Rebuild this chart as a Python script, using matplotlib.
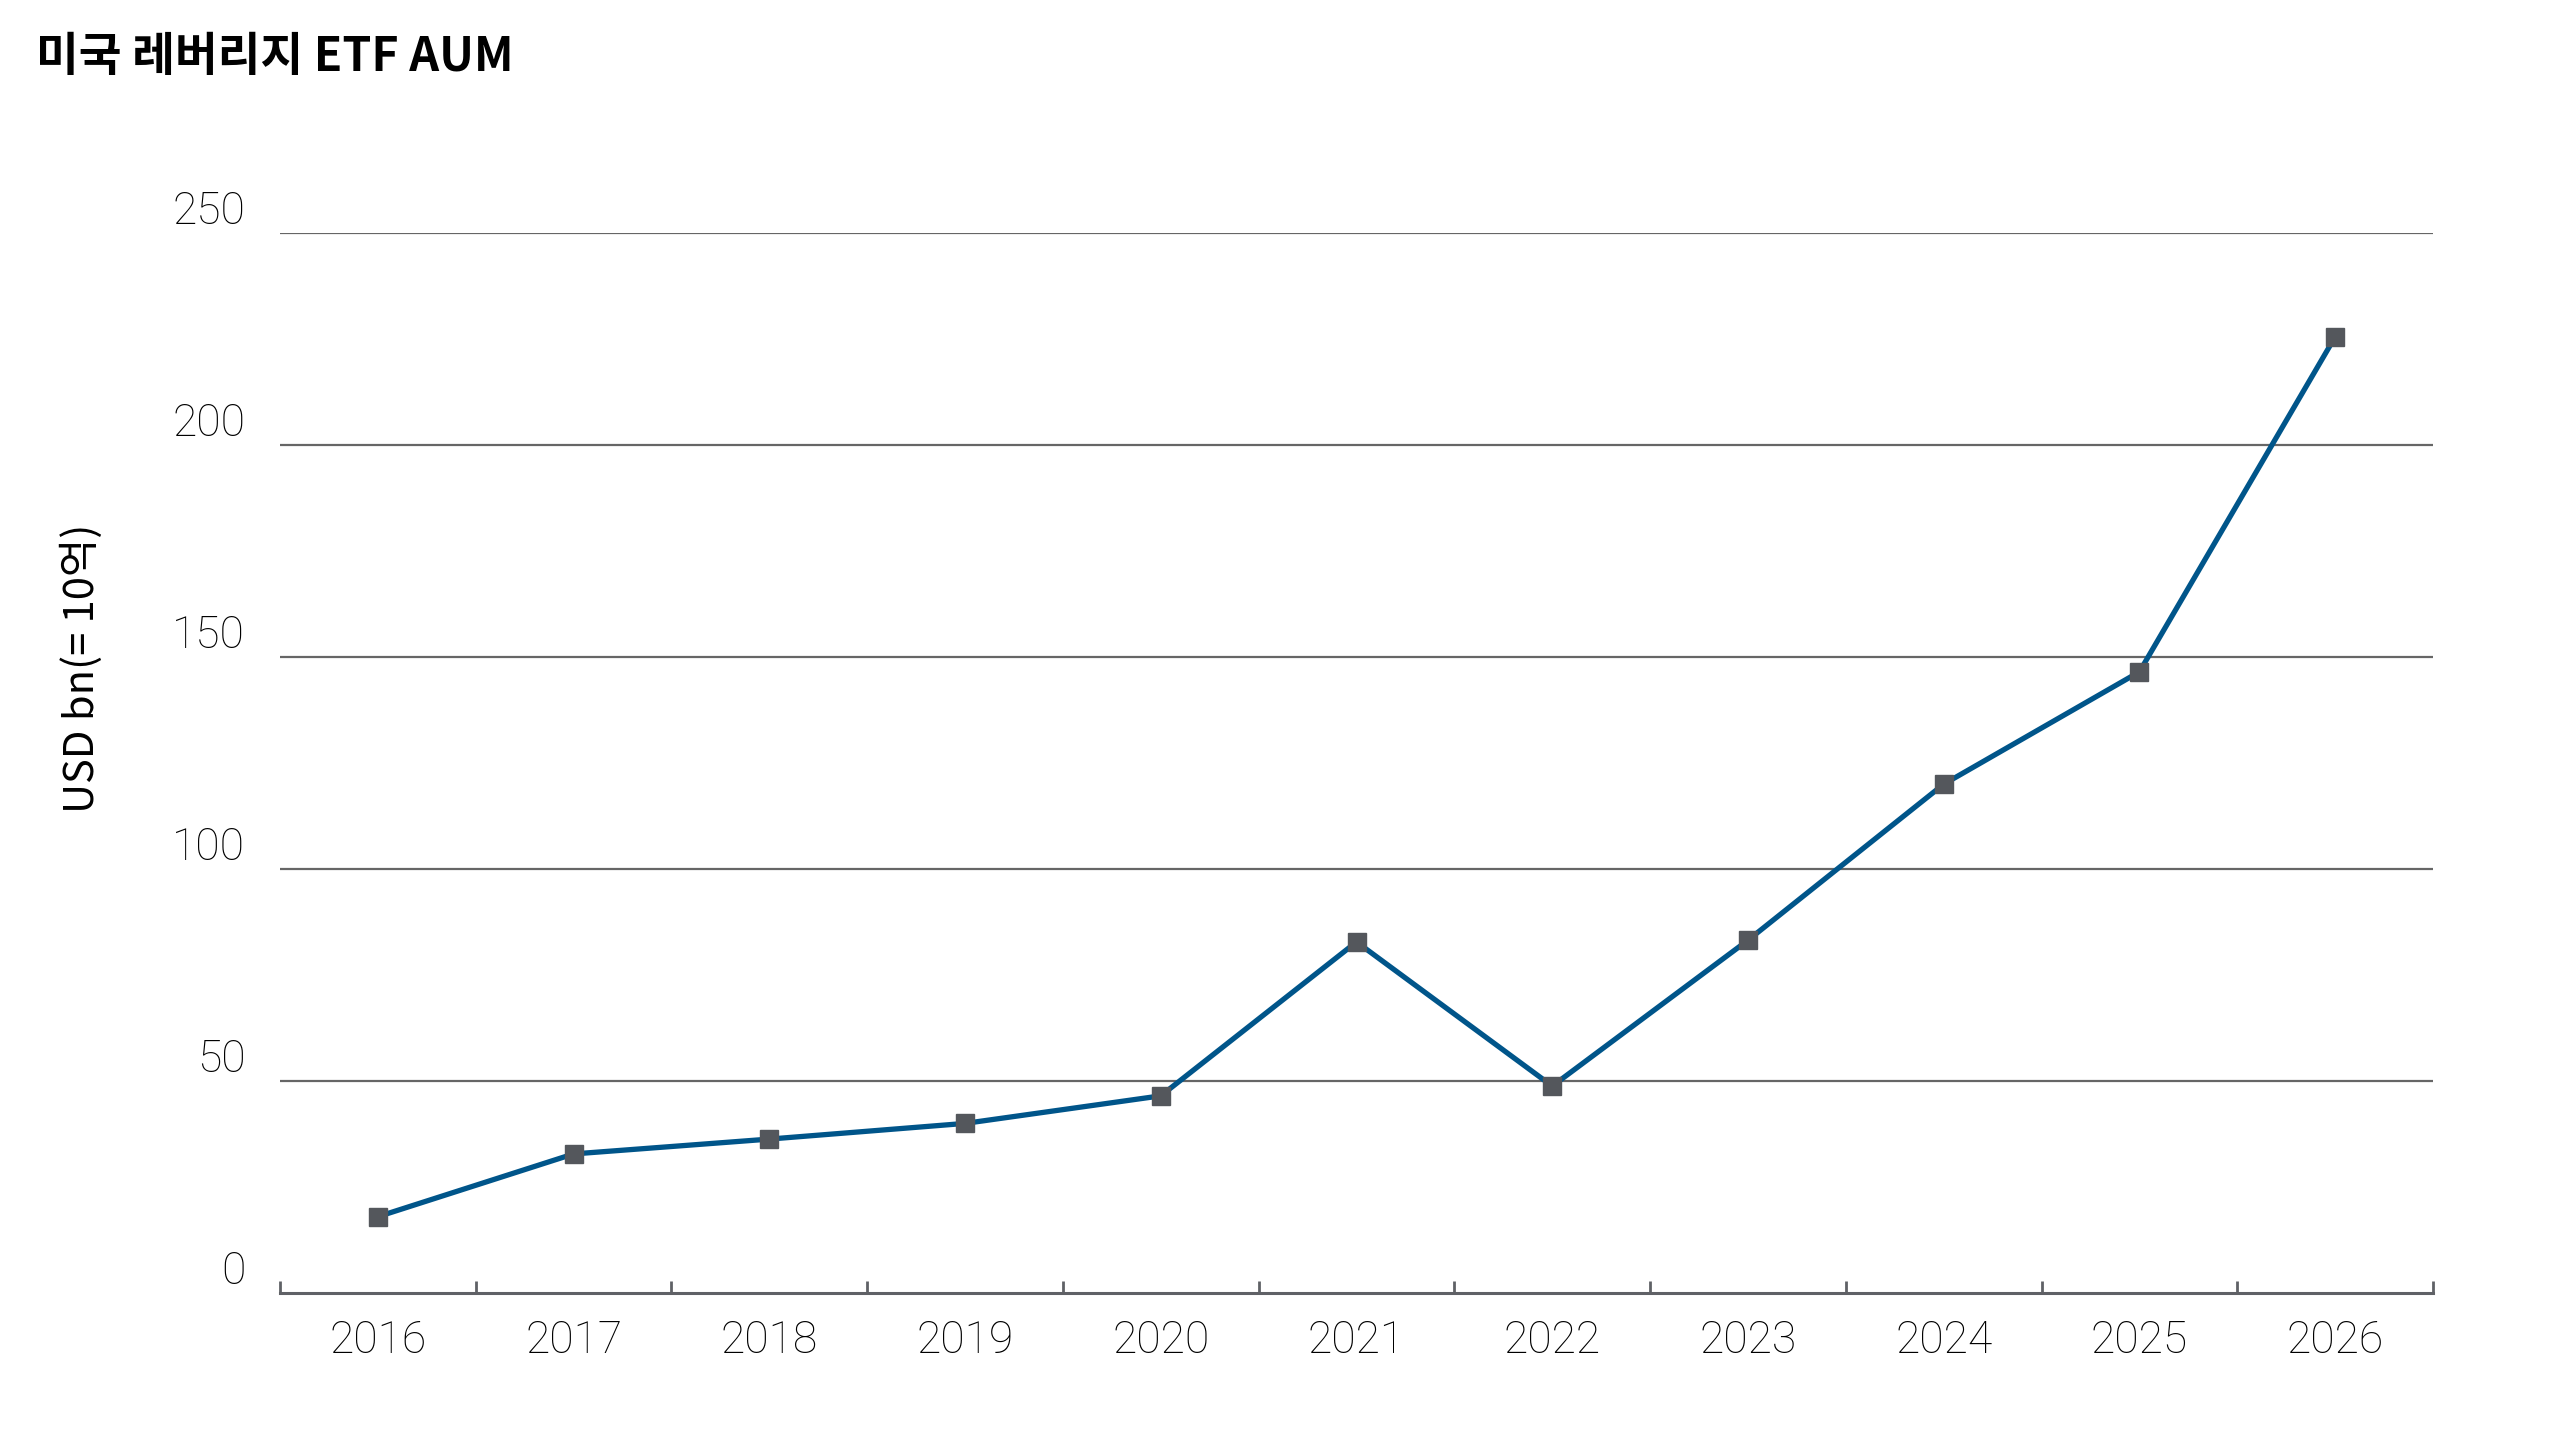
import numpy as np
import matplotlib
matplotlib.use("Agg")
import matplotlib.pyplot as plt
from matplotlib.ticker import FixedLocator, NullFormatter

plt.rcParams['font.family'] = ['Noto Sans CJK KR', 'DejaVu Sans']

# data (USD bn)
years = ["2016", "2017", "2018", "2019", "2020", "2021",
         "2022", "2023", "2024", "2025", "2026"]
aum = [18.0, 32.8, 36.3, 40.0, 46.5, 82.8, 48.8, 83.2, 120.0, 146.5, 225.5]
yticks = [0, 50, 100, 150, 200, 250]

title = "미국 레버리지 ETF AUM"
ylabel = "USD bn(= 10억)"

line_col = "#00558a"
marker_col = "#54575c"
grid_col = "#666666"
axis_col = "#5f6166"
tick_font = ['Roboto', 'Noto Sans CJK KR']

fig = plt.figure(figsize=(25.6, 14.4), dpi=100)
ax = fig.add_axes([280 / 2560, 1 - 1293 / 1440, (2433 - 280) / 2560, (1293 - 233) / 1440])

x = np.arange(len(years))
ax.plot(x, aum, color=line_col, lw=3.8, marker="s", ms=13,
        mfc=marker_col, mec=marker_col, zorder=3)

ax.set_xlim(-0.5, len(years) - 0.5)
ax.set_ylim(0, 250)

# horizontal gridlines
for v in yticks[1:]:
    ax.axhline(v, color=grid_col, lw=1.6, zorder=1)

for s in ["top", "right", "left"]:
    ax.spines[s].set_visible(False)
ax.spines["bottom"].set_color(axis_col)
ax.spines["bottom"].set_linewidth(2.2)

ax.set_yticks(yticks)
ax.tick_params(axis="y", length=0, pad=25, labelsize=32)
for lab in ax.get_yticklabels():
    lab.set_va("bottom")
    lab.set_family(tick_font)
    lab.set_fontweight("light")

ax.set_xticks(x)
ax.set_xticklabels(years)
ax.tick_params(axis="x", which="major", length=0, pad=19, labelsize=32)
for lab in ax.get_xticklabels():
    lab.set_family(tick_font)
    lab.set_fontweight("light")
ax.xaxis.set_minor_locator(FixedLocator(np.arange(len(years) + 1) - 0.5))
ax.xaxis.set_minor_formatter(NullFormatter())
ax.tick_params(axis="x", which="minor", direction="in", length=9,
               width=2, color=axis_col)

fig.text(82 / 2560, 1 - 668 / 1440, ylabel, rotation=90, fontsize=30,
         ha="center", va="center")
fig.text(36 / 2560, 1 - 57 / 1440, title, fontsize=33.5, fontweight="bold",
         ha="left", va="center")

fig.savefig("out.png", dpi=100)
